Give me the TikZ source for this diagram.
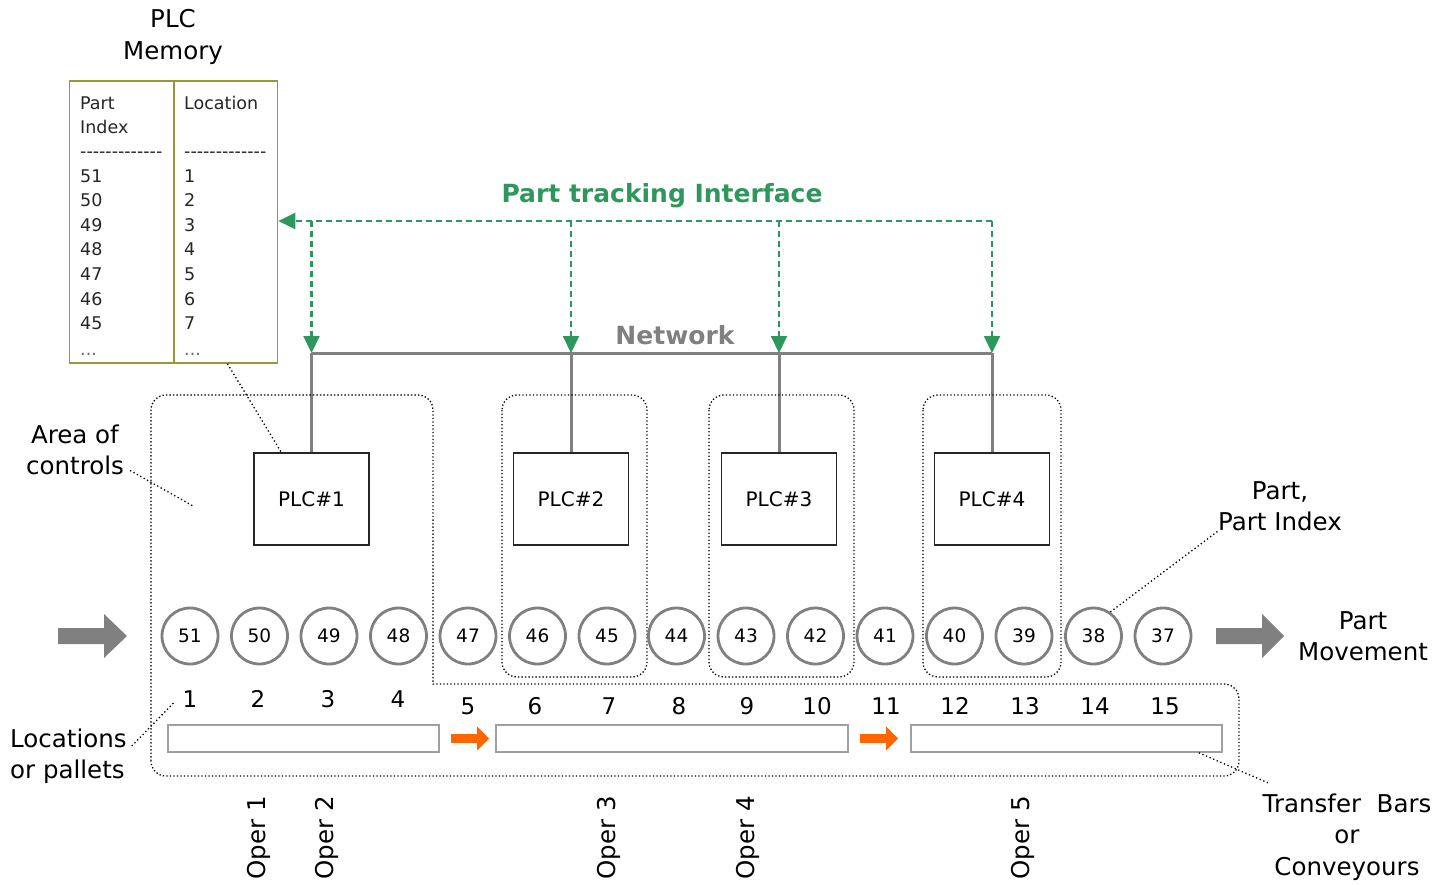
\documentclass[tikz,border=0pt]{standalone}
\usepackage{fontspec}
\setmainfont{DejaVu Sans}
\usetikzlibrary{arrows.meta}
\definecolor{trackgreen}{RGB}{46,152,92}
\definecolor{netgray}{RGB}{128,128,128}
\definecolor{memolive}{RGB}{153,153,51}
\definecolor{moveorange}{RGB}{255,102,0}
\definecolor{bargray}{RGB}{160,160,160}

\begin{document}
\begin{tikzpicture}[x=1pt,y=-1pt,
  txt/.style={font=\fontsize{24.5}{31.5}\selectfont, align=center, inner sep=0pt},
  memtxt/.style={font=\fontsize{17.5}{24}\selectfont, text=black!85, anchor=base west, inner sep=0pt},
  plcbox/.style={draw=black!85, line width=1.5pt, minimum width=115pt, minimum height=92pt,
                 inner sep=0pt, font=\fontsize{20}{22}\selectfont},
  partcircle/.style={circle, draw=netgray, line width=2.8pt, minimum size=56pt, inner sep=0pt,
                     font=\fontsize{18.5}{20}\selectfont},
  locnum/.style={font=\fontsize{23}{24}\selectfont, inner sep=0pt},
  tbar/.style={draw=bargray, line width=1.6pt, minimum height=27pt, inner sep=0pt},
  oper/.style={rotate=90, font=\fontsize{24.5}{26}\selectfont, inner sep=0pt},
  leader/.style={line width=1.3pt, dash pattern=on 1.3pt off 2.6pt},
  arealine/.style={line width=1.3pt, dash pattern=on 1.3pt off 2.2pt},
  track/.style={trackgreen, line width=2.2pt, dash pattern=on 6pt off 4pt},
  trackhead/.style={-{Triangle[length=17pt,width=16pt]}},
  netline/.style={netgray, line width=3pt},
  movearrow/.style={moveorange, line width=9pt, -{Triangle[length=12pt,width=23pt]}},
  bigarrow/.style={fill=netgray, draw=none}
]
\useasboundingbox (0,0) rectangle (1454,884);

% ---------- PLC memory table ----------
\node[txt] (memtitle) at (173,37) {PLC\\Memory};
\node[draw=memolive, line width=1.6pt, minimum width=208pt, minimum height=282pt, inner sep=0pt]
  (mem) at (173.5,222) {};
\draw[memolive, line width=1.6pt] ([xshift=0.5pt]mem.north) -- ([xshift=0.5pt]mem.south);
\node[memtxt] (hPart)  at (80,109) {Part};
\node[memtxt] (hIndex) at (80,133) {Index};
\node[memtxt] (hLoc)   at (184,109) {Location};
\node[memtxt] (dashA)  at (80,157) {-{}-{}-{}-{}-{}-{}-{}-{}-{}-{}-{}-{}-};
\node[memtxt] (dashB)  at (184,157) {-{}-{}-{}-{}-{}-{}-{}-{}-{}-{}-{}-{}-};
\foreach \pidx/\loc [count=\r from 0] in {51/1,50/2,49/3,48/4,47/5,46/6,45/7} {
  \node[memtxt] (mi\r) at (80,{182+24.6*\r}) {\pidx};
  \node[memtxt] (ml\r) at (184,{182+24.6*\r}) {\loc};
}
\node[memtxt, text=black!60] (mdotsA) at (80,355) {...};
\node[memtxt, text=black!60] (mdotsB) at (184,355) {...};

% ---------- part tracking interface ----------
\node[font=\bfseries\fontsize{25}{28}\selectfont, text=trackgreen, inner sep=0pt] (ptitle) at (662,196)
  {Part tracking Interface};
\node[font=\bfseries\fontsize{25}{28}\selectfont, text=netgray, inner sep=0pt] (nettitle) at (675,335)
  {Network};

% ---------- PLCs ----------
\node[plcbox] (plc1) at (311.5,499) {PLC\#1};
\node[plcbox] (plc2) at (571,499) {PLC\#2};
\node[plcbox] (plc3) at (779,499) {PLC\#3};
\node[plcbox] (plc4) at (992,499) {PLC\#4};

\foreach \k in {1,2,3,4} {
  \coordinate (n\k) at (plc\k.north |- 0,353);
  \coordinate (t\k) at (plc\k.north |- 0,221);
}

% network bus and drops
\draw[netline] (n1) -- (n4);
\foreach \k in {1,2,3,4} { \draw[netline] (n\k) -- (plc\k.north); }

% tracking data paths
\draw[track, trackhead] (t4) -- (mem.east |- t4);
\foreach \k in {1,2,3,4} { \draw[track, trackhead] (t\k) -- (n\k); }

% ---------- areas of control ----------
\draw[arealine, rounded corners=15pt] (151,776) -- (151,395) -- (433,395) [sharp corners] -- (433,684)
  [rounded corners=15pt] -- (1239,684) -- (1239,776) -- cycle;
\draw[arealine, rounded corners=15pt] (502,395) rectangle (647,677);
\draw[arealine, rounded corners=15pt] (709,395) rectangle (854,677);
\draw[arealine, rounded corners=15pt] (923,395) rectangle (1061,677);

% ---------- parts on the line ----------
\foreach \num [count=\i] in {51,50,49,48,47,46,45,44,43,42,41,40,39,38,37} {
  \node[partcircle] (p\i) at ({190+69.5*(\i-1)},636) {\num};
}

% ---------- locations ----------
\foreach \x/\y/\n in {190/699/1,258/699/2,328/699/3,398/699/4,468/706/5,535/706/6,609/706/7,
                      679/706/8,747/706/9,817/706/10,886/706/11,955/706/12,1025/706/13,
                      1095/706/14,1165/706/15} {
  \node[locnum] (loc\n) at (\x,\y) {\n};
}

% ---------- transfer bars ----------
\node[tbar, minimum width=271pt] (bar1) at (303.5,738.5) {};
\node[tbar, minimum width=352pt] (bar2) at (672,738.5) {};
\node[tbar, minimum width=311pt] (bar3) at (1066.5,738.5) {};
\draw[movearrow] ([xshift=11pt]bar1.east) -- ([xshift=-6pt]bar2.west);
\draw[movearrow] ([xshift=11pt]bar2.east) -- ([xshift=-12pt]bar3.west);

% ---------- part movement arrows ----------
\fill[bigarrow] (58,628) -- (104,628) -- (104,614) -- (127,636) -- (104,658) -- (104,644) -- (58,644) -- cycle;
\fill[bigarrow] (1216,628) -- (1262,628) -- (1262,614) -- (1284,636) -- (1262,658) -- (1262,644) -- (1216,644) -- cycle;

% ---------- operations ----------
\foreach \x/\n in {259/1,327/2,609/3,748/4,1023/5} {
  \node[oper] (op\n) at (\x,838) {Oper \n};
}

% ---------- annotations ----------
\node[txt] (area) at (75,450) {Area of\\controls};
\node[txt] (pidx) at (1280,506) {Part,\\Part Index};
\node[txt] (pmove) at (1363,636) {Part\\Movement};
\node[txt, align=left, anchor=west] (locs) at (10,756) {Locations\\or pallets};
\node[txt] (xfer) at (1347,837) {Transfer\ \ Bars\\or\\Conveyours};

\coordinate (areaend) at (193,506);
\draw[leader] ([xshift=54pt]mem.south) -- ([xshift=28pt]plc1.north west);
\draw[leader] ([shift={(6pt,5pt)}]area.south east) -- (areaend);
\draw[leader] (p14.55) -- (pidx.south west);
\draw[leader] ([shift={(5pt,10pt)}]locs.east) -- ([shift={(-8pt,-3pt)}]loc1.west);
\draw[leader] ([xshift=-24pt]bar3.south east) -- ([shift={(7pt,10pt)}]xfer.north west);
\end{tikzpicture}
\end{document}
